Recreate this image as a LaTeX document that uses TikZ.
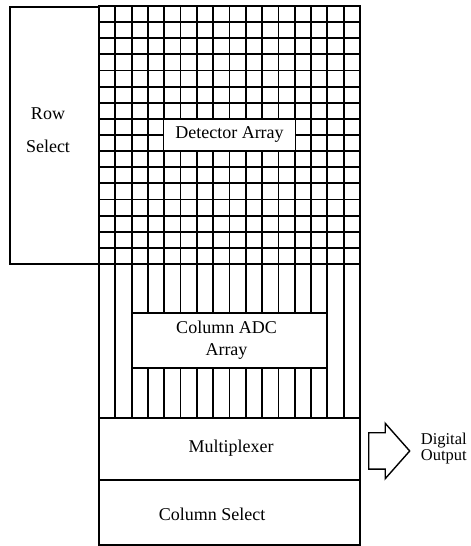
\documentclass[tikz,border=0pt]{standalone}
\usepackage{fontspec}
\setmainfont{Liberation Serif}
\usepackage{tikz}
\usetikzlibrary{
  positioning,
  calc,
  shapes.arrows
}
\tikzset{
  frame/.style={
    rectangle, draw, line width=2.4pt,
    inner sep=0pt, outer sep=0pt
  },
  cell/.style={line width=1.8pt},
  lblbox/.style={
    rectangle, draw, fill=white, line width=1.8pt,
    inner sep=0pt, outer sep=0pt,
    align=center, font=\fontsize{18}{22}\selectfont
  },
  txt/.style={align=center, inner sep=0pt, font=\fontsize{18}{22}\selectfont},
  outarrow/.style={
    single arrow, draw, line width=1.4pt,
    inner xsep=0pt, inner ysep=17.5pt,
    minimum height=41pt,
    single arrow head extend=9.5pt, single arrow tip angle=97
  }
}

\begin{document}
\begin{tikzpicture}[x=1pt, y=1pt]

\useasboundingbox (0,0) rectangle (471,546);

\def\cw{16.3125}
\def\rh{16.125}

% Detector array and the blocks below it
\node[frame, minimum width=261pt, minimum height=258pt] (det) at (229.5,411) {};
\node[frame, minimum width=89pt, minimum height=257pt, anchor=south east] (rowsel) at (det.south west) {};
\node[frame, minimum width=261pt, minimum height=154pt, below=0pt of det] (colreg) {};
\node[frame, minimum width=261pt, minimum height=62pt, below=0pt of colreg] (mux) {};
\node[frame, minimum width=261pt, minimum height=65pt, below=0pt of mux] (colsel) {};

% Pixel grid and column lines
\foreach \i in {1,...,15}
  \draw[cell] ($(det.north west)+(\i*\cw,0)$) -- ($(colreg.south west)+(\i*\cw,0)$);
\foreach \j in {1,...,15}
  \draw[cell] ($(det.north west)+(0,-\j*\rh)$) -- ++(261,0);

% Labels
\node[lblbox, draw=none, minimum width=130.5pt, minimum height=30.5pt] (detlbl) at (det.center) {Detector Array};
\node[lblbox, minimum width=195.75pt, minimum height=55pt] (adc) at ([yshift=0.5pt]colreg.center)
  {\hspace*{-6pt}Column ADC\\\hspace*{-6pt}Array};
\node[txt, font=\fontsize{18}{33}\selectfont] (rowtxt) at ([xshift=-6.5pt, yshift=5pt]rowsel.center) {Row\\Select};
\node[txt] (muxtxt) at ([xshift=1.5pt, yshift=1pt]mux.center) {Multiplexer};
\node[txt] (colseltxt) at ([xshift=-17.5pt, yshift=-1.5pt]colsel.center) {Column Select};

% Output
\node[outarrow, right=8pt of mux, yshift=-2pt] (outarr) {};
\node[txt, align=left, font=\fontsize{16.5}{16}\selectfont, right=10pt of outarr, yshift=2pt] (digout) {Digital\\Output};

\end{tikzpicture}
\end{document}
